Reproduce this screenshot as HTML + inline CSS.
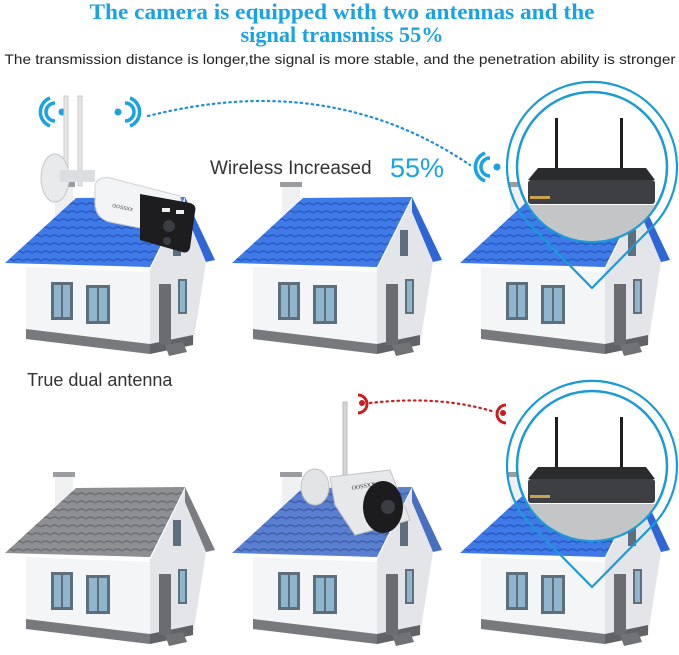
<!DOCTYPE html>
<html><head><meta charset="utf-8"><style>
html,body{margin:0;padding:0;background:#fff;}
svg{display:block}
</style></head><body>
<svg width="679" height="655" viewBox="0 0 679 655" xmlns="http://www.w3.org/2000/svg">
<defs>
<pattern id="tile" width="9" height="8" patternUnits="userSpaceOnUse">
<rect width="9" height="8" fill="#3f7be8"/>
<path d="M0 7 Q4.5 3 9 7" stroke="#2a57c0" stroke-width="1.4" fill="none"/>
</pattern>
<pattern id="tileg" width="9" height="8" patternUnits="userSpaceOnUse">
<rect width="9" height="8" fill="#8d8f93"/>
<path d="M0 7 Q4.5 3 9 7" stroke="#6b6d71" stroke-width="1.4" fill="none"/>
</pattern>
<pattern id="tilem" width="9" height="8" patternUnits="userSpaceOnUse">
<rect width="9" height="8" fill="#5a7fd0"/>
<path d="M0 7 Q4.5 3 9 7" stroke="#3d5ea8" stroke-width="1.4" fill="none"/>
</pattern>
<clipPath id="cc"><circle cx="592" cy="167" r="74"/></clipPath>
<g id="body">
<polygon points="21,85 145,90 145,172 21,157" fill="#f4f5f7"/>
<polygon points="21,147 145,162 145,172 21,157" fill="#77797c"/>
<polygon points="145,88 180,17 201,80 188,163 145,172" fill="#e3e5e8"/>
<polygon points="145,162 188,153 188,163 145,172" fill="#606265"/>
<rect x="50" y="2" width="18" height="40" fill="#eef0f2"/>
<rect x="48" y="0" width="22" height="5" fill="#9a9c9f"/>
<rect x="46" y="100" width="22" height="38" fill="#5d6f7c"/><rect x="49" y="103" width="7" height="32" fill="#8fb6cc"/><rect x="58" y="103" width="7" height="32" fill="#8fb6cc"/>
<rect x="81" y="103" width="24" height="39" fill="#5d6f7c"/><rect x="84" y="106" width="8" height="33" fill="#8fb6cc"/><rect x="94" y="106" width="8" height="33" fill="#8fb6cc"/>
<rect x="154" y="102" width="12" height="61" fill="#6a6c70"/>
<rect x="173" y="97" width="9" height="35" fill="#5d6f7c"/><rect x="175" y="99" width="5" height="31" fill="#8fb6cc"/>
<rect x="168" y="48" width="8" height="26" fill="#5d6f7c"/>
<polygon points="160,163 178,160 182,170 164,174" fill="#707275"/>
</g>
</defs>

<text x="342" y="19" text-anchor="middle" font-family="Liberation Serif, serif" font-weight="bold" font-size="22" fill="#1aa3e3" textLength="505" lengthAdjust="spacingAndGlyphs">The camera is equipped with two antennas and the</text>
<text x="342" y="42" text-anchor="middle" font-family="Liberation Serif, serif" font-weight="bold" font-size="22" fill="#1aa3e3" textLength="203" lengthAdjust="spacingAndGlyphs">signal transmiss 55%</text>
<text x="340" y="64" text-anchor="middle" font-family="Liberation Sans, sans-serif" font-size="14" fill="#222" textLength="671" lengthAdjust="spacingAndGlyphs">The transmission distance is longer,the signal is more stable, and the penetration ability is stronger</text>

<g transform="translate(232,182)">
 <use href="#body"/>
 <polygon points="0,81 71,16 180,15 145,85" fill="url(#tile)"/>
 <polygon points="180,15 210,78 201,80 180,30" fill="#2f66d6"/>
</g>
<g transform="translate(5,182)">
 <use href="#body"/>
 <polygon points="0,81 71,16 180,15 145,85" fill="url(#tile)"/>
 <polygon points="180,15 210,78 201,80 180,30" fill="#2f66d6"/>
</g>
<g transform="translate(460,182)">
 <use href="#body"/>
 <polygon points="0,81 71,16 180,15 145,85" fill="url(#tile)"/>
 <polygon points="180,15 210,78 201,80 180,30" fill="#2f66d6"/>
</g>
<g transform="translate(5,472)">
 <use href="#body"/>
 <polygon points="0,81 71,16 180,15 145,85" fill="url(#tileg)"/>
 <polygon points="180,15 210,78 201,80 180,30" fill="#7a7c80"/>
</g>
<g transform="translate(232,472)">
 <use href="#body"/>
 <polygon points="0,81 71,16 180,15 145,85" fill="url(#tilem)"/>
 <polygon points="180,15 210,78 201,80 180,30" fill="#4a6fc0"/>
</g>
<g transform="translate(460,472)">
 <use href="#body"/>
 <polygon points="0,81 71,16 180,15 145,85" fill="url(#tile)"/>
 <polygon points="180,15 210,78 201,80 180,30" fill="#2f66d6"/>
</g>

<text x="210" y="174" font-family="Liberation Sans, sans-serif" font-size="19" fill="#333">Wireless Increased</text>
<text x="390" y="177" font-family="Liberation Sans, sans-serif" font-size="27" fill="#1aa3e3">55%</text>
<text x="27" y="386" font-family="Liberation Sans, sans-serif" font-size="18" fill="#333">True dual antenna</text>

<path d="M148 116 Q330 70 470 165" stroke="#1a8fd6" stroke-width="2.2" stroke-dasharray="1.5 4" stroke-linecap="round" fill="none"/>
<g fill="none" stroke="#1aa3e3" stroke-width="3.5">
 <path d="M55 103 a9 9 0 0 0 0 18"/><path d="M50 98 a15 15 0 0 0 0 28"/>
 <path d="M125 103 a9 9 0 0 1 0 18"/><path d="M130 98 a15 15 0 0 1 0 28"/>
 <path d="M490 158 a9 9 0 0 0 0 18"/><path d="M485 153 a15 15 0 0 0 0 28"/>
</g>
<g fill="#1aa3e3"><circle cx="62" cy="112" r="3.5"/><circle cx="118" cy="112" r="3.5"/><circle cx="497" cy="167" r="3.5"/></g>

<path d="M370 403 Q440 395 495 412" stroke="#c81e1e" stroke-width="2.2" stroke-dasharray="1.5 4" stroke-linecap="round" fill="none"/>
<g fill="none" stroke="#c81e1e" stroke-width="3"><path d="M358 395 a9 9 0 0 1 0 18"/><path d="M506 405 a9 9 0 0 0 0 18"/></g>
<g fill="#c81e1e"><circle cx="362" cy="403" r="3"/><circle cx="503" cy="413" r="3"/></g>

<g>
 <rect x="64" y="96" width="4" height="90" fill="#e6e6e6" stroke="#ccc"/>
 <rect x="78" y="96" width="4" height="90" fill="#e6e6e6" stroke="#ccc"/>
 <ellipse cx="55" cy="178" rx="14" ry="24" fill="#e9eaec" stroke="#c6c7c9"/>
 <rect x="60" y="170" width="35" height="12" fill="#dcdde0"/>
 <path d="M95 185 Q98 176 110 178 L180 196 L190 238 L110 222 Q94 218 95 200 Z" fill="#f3f4f6" stroke="#cfd0d2"/>
 <path d="M140 194 L190 203 Q197 205 195 212 L190 248 Q188 254 182 252 L140 240 Z" fill="#1d1d1f"/>
 <circle cx="169" cy="226" r="6" fill="#3a3d44"/>
 <circle cx="167" cy="241" r="4" fill="#3a3d44"/>
 <rect x="162" y="208" width="8" height="4" fill="#eee"/><rect x="176" y="210" width="8" height="4" fill="#eee"/>
 <text x="112" y="207" font-family="Liberation Sans, sans-serif" font-size="5" fill="#444" transform="rotate(12 112 207)">OOSSXX</text>
</g>
<g>
 <rect x="343" y="402" width="4" height="75" fill="#d5d5d5" stroke="#bbb"/>
 <ellipse cx="315" cy="487" rx="14" ry="18" fill="#e3e4e6" stroke="#bfc0c2"/>
 <polygon points="330,477 390,470 410,520 355,535 335,505" fill="#e7e8ea" stroke="#c2c3c5"/>
 <ellipse cx="383" cy="507" rx="20" ry="26" fill="#1c1c1e"/>
 <circle cx="388" cy="507" r="7" fill="#3a3d44"/>
 <text x="352" y="490" font-family="Liberation Serif, serif" font-size="6" fill="#333" transform="rotate(-10 352 490)">OOSSXX</text>
</g>

<g id="bub">
 <path d="M592 288 L530 225 A85 85 0 1 1 654 225 Z" fill="none" stroke="#1a9ad6" stroke-width="2.2" stroke-linejoin="round"/>
 <circle cx="592" cy="167" r="75" fill="#fff" stroke="#1a9ad6" stroke-width="2.5"/>
 <g clip-path="url(#cc)">
 <rect x="555" y="118" width="3" height="52" fill="#1e1e1e"/>
 <rect x="620" y="118" width="3" height="52" fill="#1e1e1e"/>
 <polygon points="538,168 646,168 655,180 528,180" fill="#2a2b2d"/>
 <rect x="528" y="180" width="127" height="24" rx="3" fill="#3d3f42"/>
 <rect x="530" y="196" width="20" height="3" fill="#c9a44a"/>
 <path d="M520 205 L665 205 L665 245 L520 245 Z" fill="#c4c5c7"/>
 </g>
</g>
<use href="#bub" transform="translate(0,299)"/>
</svg>
</body></html>
